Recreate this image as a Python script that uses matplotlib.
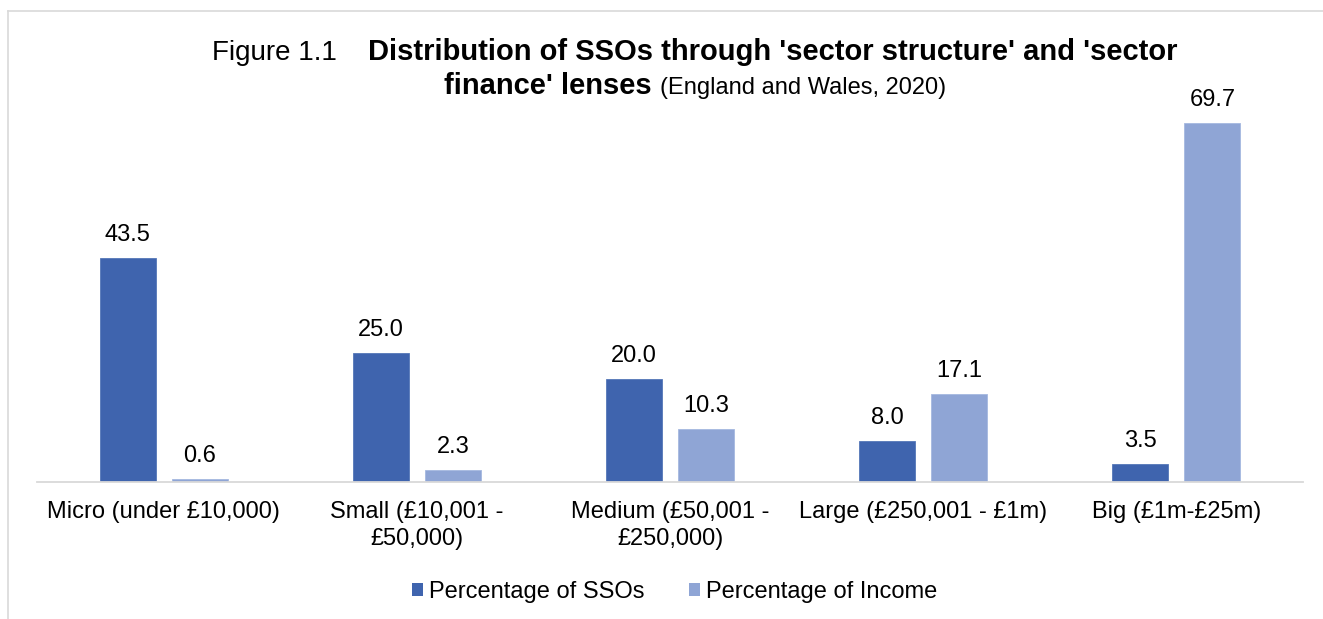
import matplotlib
matplotlib.use("Agg")
import matplotlib.pyplot as plt
from matplotlib.patches import Patch
from matplotlib.lines import Line2D
import numpy as np

plt.rcParams["font.family"] = ["Liberation Sans", "DejaVu Sans"]

categories = [
    "Micro (under £10,000)",
    "Small (£10,001 -\n£50,000)",
    "Medium (£50,001 -\n£250,000)",
    "Large (£250,001 - £1m)",
    "Big (£1m-£25m)",
]
pct_ssos = [43.5, 25.0, 20.0, 8.0, 3.5]
pct_income = [0.6, 2.3, 10.3, 17.1, 69.7]
series_names = ["Percentage of SSOs", "Percentage of Income"]

DARK = "#3F64AE"
LIGHT = "#8FA5D5"
GRID = "#D9D9D9"

W, H = 1323, 619
fig = plt.figure(figsize=(W / 100, H / 100), dpi=100)

# axes placed in pixel terms: baseline at y=482, x from 37 to 1303
ax_left, ax_right = 37, 1303
ax_bottom, ax_top = 482, 70
ax = fig.add_axes([ax_left / W, 1 - ax_bottom / H,
                   (ax_right - ax_left) / W, (ax_bottom - ax_top) / H])

x = np.arange(len(categories))
bw = 0.221
off = 0.142
ax.bar(x - off, pct_ssos, bw, color=DARK, edgecolor="#5577B8", linewidth=0.6)
ax.bar(x + off, pct_income, bw, color=LIGHT, edgecolor="#A5B8E0", linewidth=0.6)

ax.set_xlim(-0.5, len(categories) - 0.5)
ax.set_ylim(0, 80)

for xi, v in zip(x - off, pct_ssos):
    ax.annotate(f"{v:.1f}", (xi, v), xytext=(0, 12.2), textcoords="offset points",
                ha="center", va="baseline", fontsize=17, color="#000000")
for xi, v in zip(x + off, pct_income):
    ax.annotate(f"{v:.1f}", (xi, v), xytext=(0, 12.2), textcoords="offset points",
                ha="center", va="baseline", fontsize=17, color="#000000")

for s in ["top", "left", "right"]:
    ax.spines[s].set_visible(False)
ax.spines["bottom"].set_color(GRID)
ax.spines["bottom"].set_linewidth(1.3)
ax.set_yticks([])
ax.set_xticks(x)
ax.set_xticklabels(categories, fontsize=17, linespacing=1.25)
ax.tick_params(axis="x", length=0, pad=14)

# chart frame (top and left edges)
fig.add_artist(Line2D([8 / W, 1], [1 - 11 / H, 1 - 11 / H], color=GRID, lw=1.2))
fig.add_artist(Line2D([8 / W, 8 / W], [0, 1 - 11 / H], color=GRID, lw=1.2))

# title composed from regular and bold runs
renderer = fig.canvas.get_renderer()
cx = 695

def width_px(t):
    return t.get_window_extent(renderer=renderer).width

y1 = 1 - 60 / H
y2 = 1 - 94 / H
t1a = fig.text(0, y1, "Figure 1.1", fontsize=20, va="baseline")
t1b = fig.text(0, y1, "Distribution of SSOs through 'sector structure' and 'sector",
               fontsize=21, fontweight="bold", va="baseline")
gap = 31
w1 = width_px(t1a) + gap + width_px(t1b)
start = cx - w1 / 2
t1a.set_x(start / W)
t1b.set_x((start + width_px(t1a) + gap) / W)

t2a = fig.text(0, y2, "finance' lenses", fontsize=21, fontweight="bold", va="baseline")
t2b = fig.text(0, y2, "(England and Wales, 2020)", fontsize=17, va="baseline")
gap2 = 9
w2 = width_px(t2a) + gap2 + width_px(t2b)
start2 = cx - w2 / 2
t2a.set_x(start2 / W)
t2b.set_x((start2 + width_px(t2a) + gap2) / W)

handles = [Patch(facecolor=DARK, edgecolor="none"), Patch(facecolor=LIGHT, edgecolor="none")]
fig.legend(handles, series_names, loc="center", bbox_to_anchor=(674.5 / W, 27 / H),
           ncol=2, frameon=False, fontsize=17, handlelength=0.47, handleheight=0.47,
           handletextpad=0.25, columnspacing=1.9)

fig.savefig("out.png", dpi=100, facecolor="white")
